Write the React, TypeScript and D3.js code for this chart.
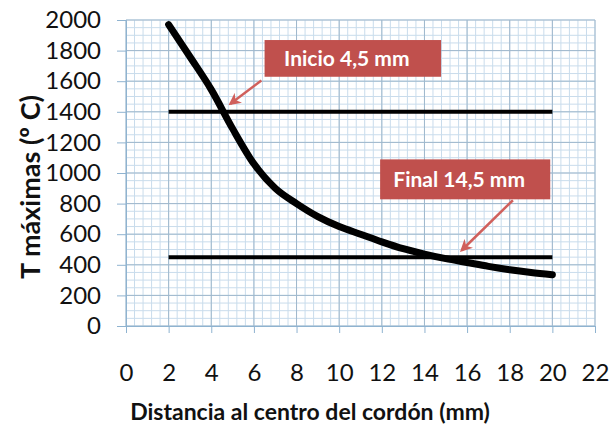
import React, { useEffect, useRef } from 'react';
import * as d3 from 'd3';

// data
const distances = [2, 3, 4, 5, 6, 7, 8, 9, 10, 11, 12, 13, 14, 15, 16, 17, 18, 19, 20];
const tempMax = [1970, 1760, 1545, 1290, 1060, 900, 800, 715, 650, 600, 550, 505, 470, 440, 415, 390, 368, 350, 335];
const limitLevels = [1400, 450];
const limitRange = [2, 20];
const xTicks = [0, 2, 4, 6, 8, 10, 12, 14, 16, 18, 20, 22];
const yTicks = [0, 200, 400, 600, 800, 1000, 1200, 1400, 1600, 1800, 2000];

// callouts in data coordinates
const callouts = [
  { text: 'Inicio 4,5 mm', x0: 6.5, x1: 14.78, yTop: 1869, yBottom: 1629, tail: [6.35, 1605], head: [4.9, 1452] },
  { text: 'Final 14,5 mm', x0: 11.92, x1: 19.9, yTop: 1089, yBottom: 828, tail: [18.15, 822], head: [15.75, 495] },
];

const W = 609;
const H = 437;
const margin = { top: 20, right: 14, bottom: 111, left: 126 };
const font = 'Lato, "Open Sans", sans-serif';

export default function App() {
  const ref = useRef<SVGSVGElement>(null);

  useEffect(() => {
    const svg = d3.select(ref.current);
    svg.selectAll('*').remove();

    const x = d3.scaleLinear().domain([0, 22]).range([margin.left, W - margin.right]);
    const y = d3.scaleLinear().domain([0, 2000]).range([H - margin.bottom, margin.top]);

    const grid = svg.append('g');
    // minor grid
    grid.selectAll('line.mx')
      .data(d3.range(0, 22.001, 0.4))
      .enter().append('line')
      .attr('x1', d => x(d)).attr('x2', d => x(d))
      .attr('y1', y(0)).attr('y2', y(2000))
      .attr('stroke', '#c9dcec').attr('stroke-width', 1);
    grid.selectAll('line.my')
      .data(d3.range(0, 2000.1, 50))
      .enter().append('line')
      .attr('x1', x(0)).attr('x2', x(22))
      .attr('y1', d => y(d)).attr('y2', d => y(d))
      .attr('stroke', '#c9dcec').attr('stroke-width', 1);
    // major grid
    grid.selectAll('line.Mx')
      .data(xTicks)
      .enter().append('line')
      .attr('x1', d => x(d)).attr('x2', d => x(d))
      .attr('y1', y(0)).attr('y2', y(2000))
      .attr('stroke', '#9fb8cc').attr('stroke-width', 1);
    grid.selectAll('line.My')
      .data(yTicks)
      .enter().append('line')
      .attr('x1', x(0)).attr('x2', x(22))
      .attr('y1', d => y(d)).attr('y2', d => y(d))
      .attr('stroke', '#9fb8cc').attr('stroke-width', 1);

    // axes
    const xAxis = svg.append('g')
      .attr('transform', `translate(0,${y(0)})`)
      .call(d3.axisBottom(x).tickValues(xTicks).tickSize(7).tickPadding(31));
    const yAxis = svg.append('g')
      .attr('transform', `translate(${x(0)},0)`)
      .call(d3.axisLeft(y).tickValues(yTicks).tickFormat(d3.format('d')).tickSize(9).tickPadding(16));
    [xAxis, yAxis].forEach(a => {
      a.select('.domain').attr('stroke', '#8fb3d0');
      a.selectAll('.tick line').attr('stroke', '#8fb3d0');
      a.selectAll('.tick text')
        .attr('fill', '#111')
        .style('font-family', font)
        .style('font-size', '24px');
    });

    // limit lines
    svg.selectAll('line.limit')
      .data(limitLevels)
      .enter().append('line')
      .attr('x1', x(limitRange[0])).attr('x2', x(limitRange[1]))
      .attr('y1', d => y(d)).attr('y2', d => y(d))
      .attr('stroke', '#000').attr('stroke-width', 4);

    // temperature curve
    const line = d3.line<number>()
      .x((_, i) => x(distances[i]))
      .y(d => y(d))
      .curve(d3.curveMonotoneX);
    svg.append('path')
      .attr('d', line(tempMax))
      .attr('fill', 'none')
      .attr('stroke', '#000')
      .attr('stroke-width', 7)
      .attr('stroke-linecap', 'round');

    // callouts
    const defs = svg.append('defs');
    defs.append('marker')
      .attr('id', 'arrow')
      .attr('viewBox', '0 0 10 10')
      .attr('refX', 8).attr('refY', 5)
      .attr('markerWidth', 5).attr('markerHeight', 5)
      .attr('orient', 'auto')
      .append('path')
      .attr('d', 'M0,0 L10,5 L0,10 L3,5 z')
      .attr('fill', '#d0605c');

    callouts.forEach(c => {
      svg.append('rect')
        .attr('x', x(c.x0)).attr('y', y(c.yTop))
        .attr('width', x(c.x1) - x(c.x0))
        .attr('height', y(c.yBottom) - y(c.yTop))
        .attr('fill', '#c0504d');
      svg.append('text')
        .attr('x', (x(c.x0) + x(c.x1)) / 2 - 6)
        .attr('y', (y(c.yTop) + y(c.yBottom)) / 2)
        .attr('dy', '0.36em')
        .attr('text-anchor', 'middle')
        .attr('fill', '#fff')
        .style('font-family', font)
        .style('font-weight', 'bold')
        .style('font-size', '21px')
        .text(c.text);
      svg.append('line')
        .attr('x1', x(c.tail[0])).attr('y1', y(c.tail[1]))
        .attr('x2', x(c.head[0])).attr('y2', y(c.head[1]))
        .attr('stroke', '#d0605c').attr('stroke-width', 2.5)
        .attr('marker-end', 'url(#arrow)');
    });

    // axis titles
    svg.append('text')
      .attr('transform', `translate(40,${(y(0) + y(2000)) / 2 + 14}) rotate(-90)`)
      .attr('text-anchor', 'middle')
      .attr('fill', '#111')
      .style('font-family', font)
      .style('font-weight', 'bold')
      .style('font-size', '27px')
      .text('T máximas (º C)');
    svg.append('text')
      .attr('x', 310)
      .attr('y', 420)
      .attr('text-anchor', 'middle')
      .attr('fill', '#111')
      .style('font-family', font)
      .style('font-weight', 'bold')
      .style('font-size', '23px')
      .text('Distancia al centro del cordón (mm)');
  }, []);

  return (
    <svg
      ref={ref}
      width={W}
      height={H}
      style={{ position: 'absolute', left: 0, top: 0, background: '#fff' }}
    />
  );
}
